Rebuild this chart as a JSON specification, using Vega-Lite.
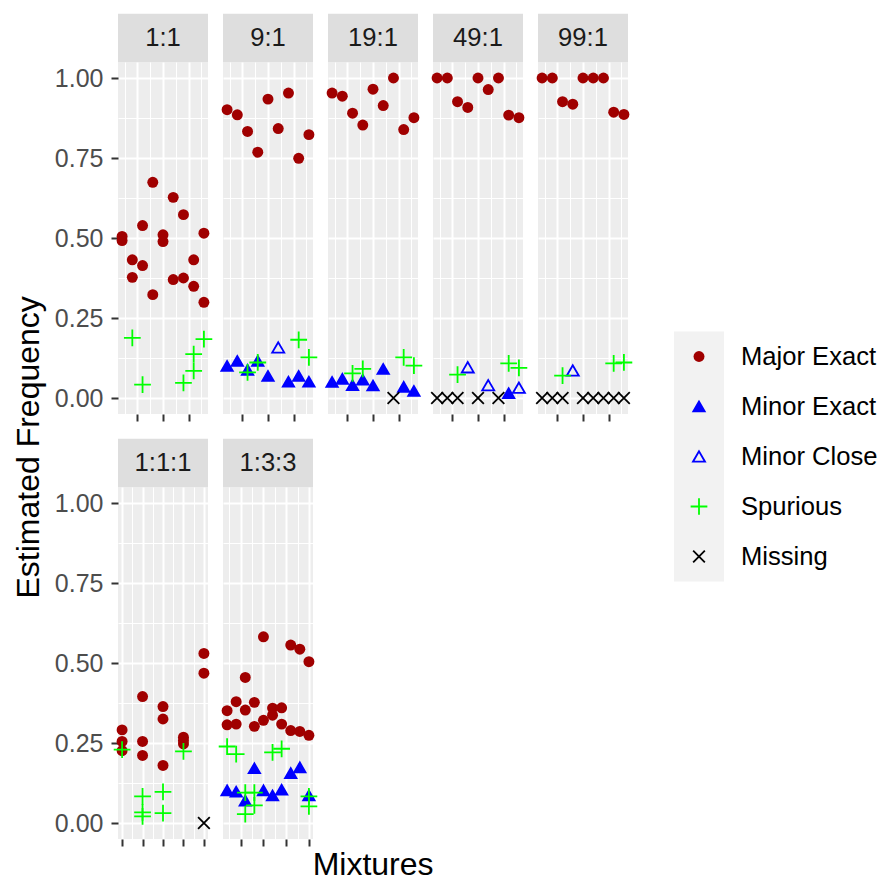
{
"$schema": "https://vega.github.io/schema/vega-lite/v6.json",
"background": "white",
"padding": {"left": 13, "top": 13, "right": 0, "bottom": 0},
"config": {
  "font": "Liberation Sans",
  "view": {"stroke": null, "fill": "#EDEDED"},
  "axis": {"domain": false, "gridColor": "white", "tickColor": "#333333", "tickSize": 7, "tickWidth": 2, "labelFontSize": 25, "labelColor": "#4D4D4D", "labelPadding": 8, "labelFont": "Liberation Sans", "title": null, "tickCount": 40},
  "title": {"font": "Liberation Sans", "fontSize": 32, "fontWeight": "normal", "color": "black", "anchor": "middle"}
},
"datasets": {
"legend": [{"t":"Major Exact"},{"t":"Minor Exact"},{"t":"Minor Close"},{"t":"Spurious"},{"t":"Missing"}],
"pts": [
{"p":"1:1","x":1,"v":0.505,"t":"Major Exact"},{"p":"1:1","x":1,"v":0.492,"t":"Major Exact"},
{"p":"1:1","x":2,"v":0.432,"t":"Major Exact"},{"p":"1:1","x":2,"v":0.377,"t":"Major Exact"},
{"p":"1:1","x":3,"v":0.539,"t":"Major Exact"},{"p":"1:1","x":3,"v":0.414,"t":"Major Exact"},
{"p":"1:1","x":4,"v":0.674,"t":"Major Exact"},{"p":"1:1","x":4,"v":0.323,"t":"Major Exact"},
{"p":"1:1","x":5,"v":0.510,"t":"Major Exact"},{"p":"1:1","x":5,"v":0.489,"t":"Major Exact"},
{"p":"1:1","x":6,"v":0.627,"t":"Major Exact"},{"p":"1:1","x":6,"v":0.370,"t":"Major Exact"},
{"p":"1:1","x":7,"v":0.573,"t":"Major Exact"},{"p":"1:1","x":7,"v":0.375,"t":"Major Exact"},
{"p":"1:1","x":8,"v":0.432,"t":"Major Exact"},{"p":"1:1","x":8,"v":0.349,"t":"Major Exact"},
{"p":"1:1","x":9,"v":0.515,"t":"Major Exact"},{"p":"1:1","x":9,"v":0.299,"t":"Major Exact"},
{"p":"1:1","x":2,"v":0.188,"t":"Spurious"},{"p":"1:1","x":3,"v":0.042,"t":"Spurious"},
{"p":"1:1","x":7,"v":0.047,"t":"Spurious"},{"p":"1:1","x":8,"v":0.137,"t":"Spurious"},
{"p":"1:1","x":8,"v":0.085,"t":"Spurious"},{"p":"1:1","x":9,"v":0.184,"t":"Spurious"},

{"p":"9:1","x":1,"v":0.901,"t":"Major Exact"},{"p":"9:1","x":2,"v":0.885,"t":"Major Exact"},
{"p":"9:1","x":3,"v":0.833,"t":"Major Exact"},{"p":"9:1","x":4,"v":0.768,"t":"Major Exact"},
{"p":"9:1","x":5,"v":0.934,"t":"Major Exact"},{"p":"9:1","x":6,"v":0.842,"t":"Major Exact"},
{"p":"9:1","x":7,"v":0.953,"t":"Major Exact"},{"p":"9:1","x":8,"v":0.749,"t":"Major Exact"},
{"p":"9:1","x":9,"v":0.823,"t":"Major Exact"},
{"p":"9:1","x":1,"v":0.100,"t":"Minor Exact"},{"p":"9:1","x":2,"v":0.116,"t":"Minor Exact"},
{"p":"9:1","x":3,"v":0.088,"t":"Minor Exact"},{"p":"9:1","x":4,"v":0.116,"t":"Minor Exact"},
{"p":"9:1","x":5,"v":0.069,"t":"Minor Exact"},{"p":"9:1","x":6,"v":0.158,"t":"Minor Close"},
{"p":"9:1","x":7,"v":0.051,"t":"Minor Exact"},{"p":"9:1","x":8,"v":0.069,"t":"Minor Exact"},
{"p":"9:1","x":9,"v":0.051,"t":"Minor Exact"},
{"p":"9:1","x":3,"v":0.080,"t":"Spurious"},{"p":"9:1","x":4,"v":0.111,"t":"Spurious"},
{"p":"9:1","x":8,"v":0.182,"t":"Spurious"},{"p":"9:1","x":9,"v":0.127,"t":"Spurious"},

{"p":"19:1","x":1,"v":0.953,"t":"Major Exact"},{"p":"19:1","x":2,"v":0.943,"t":"Major Exact"},
{"p":"19:1","x":3,"v":0.890,"t":"Major Exact"},{"p":"19:1","x":4,"v":0.853,"t":"Major Exact"},
{"p":"19:1","x":5,"v":0.965,"t":"Major Exact"},{"p":"19:1","x":6,"v":0.914,"t":"Major Exact"},
{"p":"19:1","x":7,"v":1.0,"t":"Major Exact"},{"p":"19:1","x":8,"v":0.839,"t":"Major Exact"},
{"p":"19:1","x":9,"v":0.876,"t":"Major Exact"},
{"p":"19:1","x":1,"v":0.050,"t":"Minor Exact"},{"p":"19:1","x":2,"v":0.060,"t":"Minor Exact"},
{"p":"19:1","x":3,"v":0.040,"t":"Minor Exact"},{"p":"19:1","x":4,"v":0.057,"t":"Minor Exact"},
{"p":"19:1","x":5,"v":0.039,"t":"Minor Exact"},{"p":"19:1","x":6,"v":0.091,"t":"Minor Exact"},
{"p":"19:1","x":8,"v":0.035,"t":"Minor Exact"},{"p":"19:1","x":9,"v":0.022,"t":"Minor Exact"},
{"p":"19:1","x":3,"v":0.077,"t":"Spurious"},{"p":"19:1","x":4,"v":0.091,"t":"Spurious"},
{"p":"19:1","x":8,"v":0.127,"t":"Spurious"},{"p":"19:1","x":9,"v":0.101,"t":"Spurious"},
{"p":"19:1","x":7,"v":0,"t":"Missing"},

{"p":"49:1","x":1,"v":1.0,"t":"Major Exact"},{"p":"49:1","x":2,"v":1.0,"t":"Major Exact"},
{"p":"49:1","x":3,"v":0.926,"t":"Major Exact"},{"p":"49:1","x":4,"v":0.908,"t":"Major Exact"},
{"p":"49:1","x":5,"v":1.0,"t":"Major Exact"},{"p":"49:1","x":6,"v":0.964,"t":"Major Exact"},
{"p":"49:1","x":7,"v":1.0,"t":"Major Exact"},{"p":"49:1","x":8,"v":0.884,"t":"Major Exact"},
{"p":"49:1","x":9,"v":0.876,"t":"Major Exact"},
{"p":"49:1","x":8,"v":0.015,"t":"Minor Exact"},
{"p":"49:1","x":4,"v":0.096,"t":"Minor Close"},{"p":"49:1","x":6,"v":0.040,"t":"Minor Close"},
{"p":"49:1","x":9,"v":0.032,"t":"Minor Close"},
{"p":"49:1","x":3,"v":0.073,"t":"Spurious"},{"p":"49:1","x":8,"v":0.108,"t":"Spurious"},
{"p":"49:1","x":9,"v":0.094,"t":"Spurious"},
{"p":"49:1","x":1,"v":0,"t":"Missing"},{"p":"49:1","x":2,"v":0,"t":"Missing"},
{"p":"49:1","x":3,"v":0,"t":"Missing"},{"p":"49:1","x":5,"v":0,"t":"Missing"},
{"p":"49:1","x":7,"v":0,"t":"Missing"},

{"p":"99:1","x":1,"v":1.0,"t":"Major Exact"},{"p":"99:1","x":2,"v":1.0,"t":"Major Exact"},
{"p":"99:1","x":3,"v":0.926,"t":"Major Exact"},{"p":"99:1","x":4,"v":0.918,"t":"Major Exact"},
{"p":"99:1","x":5,"v":1.0,"t":"Major Exact"},{"p":"99:1","x":6,"v":1.0,"t":"Major Exact"},
{"p":"99:1","x":7,"v":1.0,"t":"Major Exact"},{"p":"99:1","x":8,"v":0.893,"t":"Major Exact"},
{"p":"99:1","x":9,"v":0.886,"t":"Major Exact"},
{"p":"99:1","x":4,"v":0.086,"t":"Minor Close"},
{"p":"99:1","x":3,"v":0.070,"t":"Spurious"},{"p":"99:1","x":8,"v":0.108,"t":"Spurious"},
{"p":"99:1","x":9,"v":0.111,"t":"Spurious"},
{"p":"99:1","x":1,"v":0,"t":"Missing"},{"p":"99:1","x":2,"v":0,"t":"Missing"},
{"p":"99:1","x":3,"v":0,"t":"Missing"},{"p":"99:1","x":5,"v":0,"t":"Missing"},
{"p":"99:1","x":6,"v":0,"t":"Missing"},{"p":"99:1","x":7,"v":0,"t":"Missing"},
{"p":"99:1","x":8,"v":0,"t":"Missing"},{"p":"99:1","x":9,"v":0,"t":"Missing"},

{"p":"1:1:1","x":1,"v":0.291,"t":"Major Exact"},{"p":"1:1:1","x":1,"v":0.255,"t":"Major Exact"},
{"p":"1:1:1","x":1,"v":0.226,"t":"Major Exact"},{"p":"1:1:1","x":2,"v":0.395,"t":"Major Exact"},
{"p":"1:1:1","x":2,"v":0.255,"t":"Major Exact"},{"p":"1:1:1","x":2,"v":0.211,"t":"Major Exact"},
{"p":"1:1:1","x":3,"v":0.364,"t":"Major Exact"},{"p":"1:1:1","x":3,"v":0.325,"t":"Major Exact"},
{"p":"1:1:1","x":3,"v":0.180,"t":"Major Exact"},{"p":"1:1:1","x":4,"v":0.268,"t":"Major Exact"},
{"p":"1:1:1","x":4,"v":0.258,"t":"Major Exact"},{"p":"1:1:1","x":4,"v":0.247,"t":"Major Exact"},
{"p":"1:1:1","x":5,"v":0.530,"t":"Major Exact"},{"p":"1:1:1","x":5,"v":0.468,"t":"Major Exact"},
{"p":"1:1:1","x":1,"v":0.229,"t":"Spurious"},{"p":"1:1:1","x":2,"v":0.083,"t":"Spurious"},
{"p":"1:1:1","x":2,"v":0.033,"t":"Spurious"},{"p":"1:1:1","x":2,"v":0.021,"t":"Spurious"},
{"p":"1:1:1","x":3,"v":0.097,"t":"Spurious"},{"p":"1:1:1","x":3,"v":0.031,"t":"Spurious"},
{"p":"1:1:1","x":4,"v":0.224,"t":"Spurious"},
{"p":"1:1:1","x":5,"v":0,"t":"Missing"},

{"p":"1:3:3","x":1,"v":0.351,"t":"Major Exact"},{"p":"1:3:3","x":1,"v":0.307,"t":"Major Exact"},
{"p":"1:3:3","x":2,"v":0.379,"t":"Major Exact"},{"p":"1:3:3","x":2,"v":0.309,"t":"Major Exact"},
{"p":"1:3:3","x":3,"v":0.455,"t":"Major Exact"},{"p":"1:3:3","x":3,"v":0.353,"t":"Major Exact"},
{"p":"1:3:3","x":4,"v":0.377,"t":"Major Exact"},{"p":"1:3:3","x":4,"v":0.302,"t":"Major Exact"},
{"p":"1:3:3","x":5,"v":0.582,"t":"Major Exact"},{"p":"1:3:3","x":5,"v":0.321,"t":"Major Exact"},
{"p":"1:3:3","x":6,"v":0.359,"t":"Major Exact"},{"p":"1:3:3","x":6,"v":0.337,"t":"Major Exact"},
{"p":"1:3:3","x":7,"v":0.360,"t":"Major Exact"},{"p":"1:3:3","x":7,"v":0.309,"t":"Major Exact"},
{"p":"1:3:3","x":8,"v":0.556,"t":"Major Exact"},{"p":"1:3:3","x":8,"v":0.289,"t":"Major Exact"},
{"p":"1:3:3","x":9,"v":0.543,"t":"Major Exact"},{"p":"1:3:3","x":9,"v":0.286,"t":"Major Exact"},
{"p":"1:3:3","x":10,"v":0.504,"t":"Major Exact"},{"p":"1:3:3","x":10,"v":0.274,"t":"Major Exact"},
{"p":"1:3:3","x":1,"v":0.102,"t":"Minor Exact"},{"p":"1:3:3","x":2,"v":0.098,"t":"Minor Exact"},
{"p":"1:3:3","x":3,"v":0.070,"t":"Minor Exact"},{"p":"1:3:3","x":4,"v":0.171,"t":"Minor Exact"},
{"p":"1:3:3","x":5,"v":0.102,"t":"Minor Exact"},{"p":"1:3:3","x":6,"v":0.086,"t":"Minor Exact"},
{"p":"1:3:3","x":7,"v":0.104,"t":"Minor Exact"},{"p":"1:3:3","x":8,"v":0.156,"t":"Minor Exact"},
{"p":"1:3:3","x":9,"v":0.174,"t":"Minor Exact"},{"p":"1:3:3","x":10,"v":0.086,"t":"Minor Exact"},
{"p":"1:3:3","x":1,"v":0.239,"t":"Spurious"},{"p":"1:3:3","x":2,"v":0.215,"t":"Spurious"},
{"p":"1:3:3","x":3,"v":0.095,"t":"Spurious"},{"p":"1:3:3","x":3,"v":0.028,"t":"Spurious"},
{"p":"1:3:3","x":4,"v":0.095,"t":"Spurious"},{"p":"1:3:3","x":4,"v":0.055,"t":"Spurious"},
{"p":"1:3:3","x":6,"v":0.221,"t":"Spurious"},{"p":"1:3:3","x":7,"v":0.232,"t":"Spurious"},
{"p":"1:3:3","x":10,"v":0.083,"t":"Spurious"},{"p":"1:3:3","x":10,"v":0.052,"t":"Spurious"}
]},
"title": {"text": "Estimated Frequency", "orient": "left", "offset": 8, "anchor": "middle"},
"center": true,
"spacing": 38,
"hconcat": [
{"title": {"text": "Mixtures", "orient": "bottom", "offset": 3, "anchor": "middle", "dx": 28},
 "spacing": 16,
 "vconcat": [
 {"spacing": 15, "bounds": "flush", "hconcat": [
  {"width": 90, "height": 352, "data": {"name": "pts"}, "transform": [{"filter": "datum.p == '1:1'"}],
   "layer": [
    {"mark": {"type": "point", "filled": false, "strokeWidth": 1.8, "opacity": 1},
     "encoding": {
      "x": {"field": "x", "type": "quantitative", "scale": {"domain": [0.6, 9.4], "nice": false, "zero": false},
            "axis": {"values": [1.25, 2.5, 3.75, 5, 6.25, 7.5, 8.75], "labels": false, "gridWidth": {"condition": {"test": "datum.value % 2.5 == 0", "value": 2}, "value": 1}, "tickOpacity": {"condition": {"test": "datum.value % 2.5 == 0", "value": 1}, "value": 0}}},
      "y": {"field": "v", "type": "quantitative", "scale": {"domain": [-0.05, 1.05], "nice": false, "zero": false},
            "axis": {"values": [0, 0.125, 0.25, 0.375, 0.5, 0.625, 0.75, 0.875, 1], "labelExpr": "datum.value % 0.25 == 0 ? format(datum.value, '.2f') : ''", "gridWidth": {"condition": {"test": "datum.value % 0.25 == 0", "value": 2}, "value": 1}, "tickOpacity": {"condition": {"test": "datum.value % 0.25 == 0", "value": 1}, "value": 0}}},
      "shape": {"field": "t", "type": "nominal", "legend": null, "scale": {"domain": ["Major Exact", "Minor Exact", "Minor Close", "Spurious", "Missing"], "range": ["circle", "triangle-up", "triangle-up", "M-1,0H1M0,-1V1", "M-1,-1L1,1M1,-1L-1,1"]}},
      "stroke": {"field": "t", "type": "nominal", "legend": null, "scale": {"domain": ["Major Exact", "Minor Exact", "Minor Close", "Spurious", "Missing"], "range": ["transparent", "#0000FF", "#0000FF", "#00FF00", "#000000"]}},
      "fill": {"field": "t", "type": "nominal", "legend": null, "scale": {"domain": ["Major Exact", "Minor Exact", "Minor Close", "Spurious", "Missing"], "range": ["#A00000", "#0000FF", "transparent", "transparent", "transparent"]}},
      "size": {"field": "t", "type": "nominal", "legend": null, "scale": {"type": "ordinal", "domain": ["Major Exact", "Minor Exact", "Minor Close", "Spurious", "Missing"], "range": [120, 130, 145, 280, 137]}}
     }},
    {"transform": [{"aggregate": [{"op": "count", "as": "n"}], "groupby": ["p"]}],
     "mark": {"type": "rect", "color": "#DEDEDE", "clip": false},
     "encoding": {"x": {"datum": 0.6, "type": "quantitative"}, "x2": {"datum": 9.4}, "y": {"datum": 1.05, "type": "quantitative"}, "y2": {"datum": 1.201}}},
    {"transform": [{"aggregate": [{"op": "count", "as": "n"}], "groupby": ["p"]}],
     "mark": {"type": "text", "fontSize": 25.6, "color": "#1A1A1A", "baseline": "middle", "align": "center", "clip": false},
     "encoding": {"x": {"datum": 5, "type": "quantitative"}, "y": {"datum": 1.1255, "type": "quantitative"}, "text": {"field": "p"}}}
   ]},
  {"width": 90, "height": 352, "data": {"name": "pts"}, "transform": [{"filter": "datum.p == '9:1'"}],
   "layer": [
    {"mark": {"type": "point", "filled": false, "strokeWidth": 1.8, "opacity": 1},
     "encoding": {
      "x": {"field": "x", "type": "quantitative", "scale": {"domain": [0.6, 9.4], "nice": false, "zero": false},
            "axis": {"values": [1.25, 2.5, 3.75, 5, 6.25, 7.5, 8.75], "labels": false, "gridWidth": {"condition": {"test": "datum.value % 2.5 == 0", "value": 2}, "value": 1}, "tickOpacity": {"condition": {"test": "datum.value % 2.5 == 0", "value": 1}, "value": 0}}},
      "y": {"field": "v", "type": "quantitative", "scale": {"domain": [-0.05, 1.05], "nice": false, "zero": false},
            "axis": {"values": [0, 0.125, 0.25, 0.375, 0.5, 0.625, 0.75, 0.875, 1], "labels": false, "ticks": false, "minExtent": 0, "maxExtent": 0, "gridWidth": {"condition": {"test": "datum.value % 0.25 == 0", "value": 2}, "value": 1}}},
      "shape": {"field": "t", "type": "nominal", "legend": null, "scale": {"domain": ["Major Exact", "Minor Exact", "Minor Close", "Spurious", "Missing"], "range": ["circle", "triangle-up", "triangle-up", "M-1,0H1M0,-1V1", "M-1,-1L1,1M1,-1L-1,1"]}},
      "stroke": {"field": "t", "type": "nominal", "legend": null, "scale": {"domain": ["Major Exact", "Minor Exact", "Minor Close", "Spurious", "Missing"], "range": ["transparent", "#0000FF", "#0000FF", "#00FF00", "#000000"]}},
      "fill": {"field": "t", "type": "nominal", "legend": null, "scale": {"domain": ["Major Exact", "Minor Exact", "Minor Close", "Spurious", "Missing"], "range": ["#A00000", "#0000FF", "transparent", "transparent", "transparent"]}},
      "size": {"field": "t", "type": "nominal", "legend": null, "scale": {"type": "ordinal", "domain": ["Major Exact", "Minor Exact", "Minor Close", "Spurious", "Missing"], "range": [120, 130, 145, 280, 137]}}
     }},
    {"transform": [{"aggregate": [{"op": "count", "as": "n"}], "groupby": ["p"]}],
     "mark": {"type": "rect", "color": "#DEDEDE", "clip": false},
     "encoding": {"x": {"datum": 0.6, "type": "quantitative"}, "x2": {"datum": 9.4}, "y": {"datum": 1.05, "type": "quantitative"}, "y2": {"datum": 1.201}}},
    {"transform": [{"aggregate": [{"op": "count", "as": "n"}], "groupby": ["p"]}],
     "mark": {"type": "text", "fontSize": 25.6, "color": "#1A1A1A", "baseline": "middle", "align": "center", "clip": false},
     "encoding": {"x": {"datum": 5, "type": "quantitative"}, "y": {"datum": 1.1255, "type": "quantitative"}, "text": {"field": "p"}}}
   ]},
  {"width": 90, "height": 352, "data": {"name": "pts"}, "transform": [{"filter": "datum.p == '19:1'"}],
   "layer": [
    {"mark": {"type": "point", "filled": false, "strokeWidth": 1.8, "opacity": 1},
     "encoding": {
      "x": {"field": "x", "type": "quantitative", "scale": {"domain": [0.6, 9.4], "nice": false, "zero": false},
            "axis": {"values": [1.25, 2.5, 3.75, 5, 6.25, 7.5, 8.75], "labels": false, "gridWidth": {"condition": {"test": "datum.value % 2.5 == 0", "value": 2}, "value": 1}, "tickOpacity": {"condition": {"test": "datum.value % 2.5 == 0", "value": 1}, "value": 0}}},
      "y": {"field": "v", "type": "quantitative", "scale": {"domain": [-0.05, 1.05], "nice": false, "zero": false},
            "axis": {"values": [0, 0.125, 0.25, 0.375, 0.5, 0.625, 0.75, 0.875, 1], "labels": false, "ticks": false, "minExtent": 0, "maxExtent": 0, "gridWidth": {"condition": {"test": "datum.value % 0.25 == 0", "value": 2}, "value": 1}}},
      "shape": {"field": "t", "type": "nominal", "legend": null, "scale": {"domain": ["Major Exact", "Minor Exact", "Minor Close", "Spurious", "Missing"], "range": ["circle", "triangle-up", "triangle-up", "M-1,0H1M0,-1V1", "M-1,-1L1,1M1,-1L-1,1"]}},
      "stroke": {"field": "t", "type": "nominal", "legend": null, "scale": {"domain": ["Major Exact", "Minor Exact", "Minor Close", "Spurious", "Missing"], "range": ["transparent", "#0000FF", "#0000FF", "#00FF00", "#000000"]}},
      "fill": {"field": "t", "type": "nominal", "legend": null, "scale": {"domain": ["Major Exact", "Minor Exact", "Minor Close", "Spurious", "Missing"], "range": ["#A00000", "#0000FF", "transparent", "transparent", "transparent"]}},
      "size": {"field": "t", "type": "nominal", "legend": null, "scale": {"type": "ordinal", "domain": ["Major Exact", "Minor Exact", "Minor Close", "Spurious", "Missing"], "range": [120, 130, 145, 280, 137]}}
     }},
    {"transform": [{"aggregate": [{"op": "count", "as": "n"}], "groupby": ["p"]}],
     "mark": {"type": "rect", "color": "#DEDEDE", "clip": false},
     "encoding": {"x": {"datum": 0.6, "type": "quantitative"}, "x2": {"datum": 9.4}, "y": {"datum": 1.05, "type": "quantitative"}, "y2": {"datum": 1.201}}},
    {"transform": [{"aggregate": [{"op": "count", "as": "n"}], "groupby": ["p"]}],
     "mark": {"type": "text", "fontSize": 25.6, "color": "#1A1A1A", "baseline": "middle", "align": "center", "clip": false},
     "encoding": {"x": {"datum": 5, "type": "quantitative"}, "y": {"datum": 1.1255, "type": "quantitative"}, "text": {"field": "p"}}}
   ]},
  {"width": 90, "height": 352, "data": {"name": "pts"}, "transform": [{"filter": "datum.p == '49:1'"}],
   "layer": [
    {"mark": {"type": "point", "filled": false, "strokeWidth": 1.8, "opacity": 1},
     "encoding": {
      "x": {"field": "x", "type": "quantitative", "scale": {"domain": [0.6, 9.4], "nice": false, "zero": false},
            "axis": {"values": [1.25, 2.5, 3.75, 5, 6.25, 7.5, 8.75], "labels": false, "gridWidth": {"condition": {"test": "datum.value % 2.5 == 0", "value": 2}, "value": 1}, "tickOpacity": {"condition": {"test": "datum.value % 2.5 == 0", "value": 1}, "value": 0}}},
      "y": {"field": "v", "type": "quantitative", "scale": {"domain": [-0.05, 1.05], "nice": false, "zero": false},
            "axis": {"values": [0, 0.125, 0.25, 0.375, 0.5, 0.625, 0.75, 0.875, 1], "labels": false, "ticks": false, "minExtent": 0, "maxExtent": 0, "gridWidth": {"condition": {"test": "datum.value % 0.25 == 0", "value": 2}, "value": 1}}},
      "shape": {"field": "t", "type": "nominal", "legend": null, "scale": {"domain": ["Major Exact", "Minor Exact", "Minor Close", "Spurious", "Missing"], "range": ["circle", "triangle-up", "triangle-up", "M-1,0H1M0,-1V1", "M-1,-1L1,1M1,-1L-1,1"]}},
      "stroke": {"field": "t", "type": "nominal", "legend": null, "scale": {"domain": ["Major Exact", "Minor Exact", "Minor Close", "Spurious", "Missing"], "range": ["transparent", "#0000FF", "#0000FF", "#00FF00", "#000000"]}},
      "fill": {"field": "t", "type": "nominal", "legend": null, "scale": {"domain": ["Major Exact", "Minor Exact", "Minor Close", "Spurious", "Missing"], "range": ["#A00000", "#0000FF", "transparent", "transparent", "transparent"]}},
      "size": {"field": "t", "type": "nominal", "legend": null, "scale": {"type": "ordinal", "domain": ["Major Exact", "Minor Exact", "Minor Close", "Spurious", "Missing"], "range": [120, 130, 145, 280, 137]}}
     }},
    {"transform": [{"aggregate": [{"op": "count", "as": "n"}], "groupby": ["p"]}],
     "mark": {"type": "rect", "color": "#DEDEDE", "clip": false},
     "encoding": {"x": {"datum": 0.6, "type": "quantitative"}, "x2": {"datum": 9.4}, "y": {"datum": 1.05, "type": "quantitative"}, "y2": {"datum": 1.201}}},
    {"transform": [{"aggregate": [{"op": "count", "as": "n"}], "groupby": ["p"]}],
     "mark": {"type": "text", "fontSize": 25.6, "color": "#1A1A1A", "baseline": "middle", "align": "center", "clip": false},
     "encoding": {"x": {"datum": 5, "type": "quantitative"}, "y": {"datum": 1.1255, "type": "quantitative"}, "text": {"field": "p"}}}
   ]},
  {"width": 90, "height": 352, "data": {"name": "pts"}, "transform": [{"filter": "datum.p == '99:1'"}],
   "layer": [
    {"mark": {"type": "point", "filled": false, "strokeWidth": 1.8, "opacity": 1},
     "encoding": {
      "x": {"field": "x", "type": "quantitative", "scale": {"domain": [0.6, 9.4], "nice": false, "zero": false},
            "axis": {"values": [1.25, 2.5, 3.75, 5, 6.25, 7.5, 8.75], "labels": false, "gridWidth": {"condition": {"test": "datum.value % 2.5 == 0", "value": 2}, "value": 1}, "tickOpacity": {"condition": {"test": "datum.value % 2.5 == 0", "value": 1}, "value": 0}}},
      "y": {"field": "v", "type": "quantitative", "scale": {"domain": [-0.05, 1.05], "nice": false, "zero": false},
            "axis": {"values": [0, 0.125, 0.25, 0.375, 0.5, 0.625, 0.75, 0.875, 1], "labels": false, "ticks": false, "minExtent": 0, "maxExtent": 0, "gridWidth": {"condition": {"test": "datum.value % 0.25 == 0", "value": 2}, "value": 1}}},
      "shape": {"field": "t", "type": "nominal", "legend": null, "scale": {"domain": ["Major Exact", "Minor Exact", "Minor Close", "Spurious", "Missing"], "range": ["circle", "triangle-up", "triangle-up", "M-1,0H1M0,-1V1", "M-1,-1L1,1M1,-1L-1,1"]}},
      "stroke": {"field": "t", "type": "nominal", "legend": null, "scale": {"domain": ["Major Exact", "Minor Exact", "Minor Close", "Spurious", "Missing"], "range": ["transparent", "#0000FF", "#0000FF", "#00FF00", "#000000"]}},
      "fill": {"field": "t", "type": "nominal", "legend": null, "scale": {"domain": ["Major Exact", "Minor Exact", "Minor Close", "Spurious", "Missing"], "range": ["#A00000", "#0000FF", "transparent", "transparent", "transparent"]}},
      "size": {"field": "t", "type": "nominal", "legend": null, "scale": {"type": "ordinal", "domain": ["Major Exact", "Minor Exact", "Minor Close", "Spurious", "Missing"], "range": [120, 130, 145, 280, 137]}}
     }},
    {"transform": [{"aggregate": [{"op": "count", "as": "n"}], "groupby": ["p"]}],
     "mark": {"type": "rect", "color": "#DEDEDE", "clip": false},
     "encoding": {"x": {"datum": 0.6, "type": "quantitative"}, "x2": {"datum": 9.4}, "y": {"datum": 1.05, "type": "quantitative"}, "y2": {"datum": 1.201}}},
    {"transform": [{"aggregate": [{"op": "count", "as": "n"}], "groupby": ["p"]}],
     "mark": {"type": "text", "fontSize": 25.6, "color": "#1A1A1A", "baseline": "middle", "align": "center", "clip": false},
     "encoding": {"x": {"datum": 5, "type": "quantitative"}, "y": {"datum": 1.1255, "type": "quantitative"}, "text": {"field": "p"}}}
   ]}
 ]},
 {"spacing": 15, "bounds": "flush", "hconcat": [
  {"width": 90, "height": 352, "data": {"name": "pts"}, "transform": [{"filter": "datum.p == '1:1:1'"}],
   "layer": [
    {"mark": {"type": "point", "filled": false, "strokeWidth": 1.8, "opacity": 1},
     "encoding": {
      "x": {"field": "x", "type": "quantitative", "scale": {"domain": [0.8, 5.2], "nice": false, "zero": false},
            "axis": {"values": [1, 1.5, 2, 2.5, 3, 3.5, 4, 4.5, 5], "labels": false, "gridWidth": {"condition": {"test": "datum.value % 1 == 0", "value": 2}, "value": 1}, "tickOpacity": {"condition": {"test": "datum.value % 1 == 0", "value": 1}, "value": 0}}},
      "y": {"field": "v", "type": "quantitative", "scale": {"domain": [-0.05, 1.05], "nice": false, "zero": false},
            "axis": {"values": [0, 0.125, 0.25, 0.375, 0.5, 0.625, 0.75, 0.875, 1], "labelExpr": "datum.value % 0.25 == 0 ? format(datum.value, '.2f') : ''", "gridWidth": {"condition": {"test": "datum.value % 0.25 == 0", "value": 2}, "value": 1}, "tickOpacity": {"condition": {"test": "datum.value % 0.25 == 0", "value": 1}, "value": 0}}},
      "shape": {"field": "t", "type": "nominal", "legend": null, "scale": {"domain": ["Major Exact", "Minor Exact", "Minor Close", "Spurious", "Missing"], "range": ["circle", "triangle-up", "triangle-up", "M-1,0H1M0,-1V1", "M-1,-1L1,1M1,-1L-1,1"]}},
      "stroke": {"field": "t", "type": "nominal", "legend": null, "scale": {"domain": ["Major Exact", "Minor Exact", "Minor Close", "Spurious", "Missing"], "range": ["transparent", "#0000FF", "#0000FF", "#00FF00", "#000000"]}},
      "fill": {"field": "t", "type": "nominal", "legend": null, "scale": {"domain": ["Major Exact", "Minor Exact", "Minor Close", "Spurious", "Missing"], "range": ["#A00000", "#0000FF", "transparent", "transparent", "transparent"]}},
      "size": {"field": "t", "type": "nominal", "legend": null, "scale": {"type": "ordinal", "domain": ["Major Exact", "Minor Exact", "Minor Close", "Spurious", "Missing"], "range": [120, 130, 145, 280, 137]}}
     }},
    {"transform": [{"aggregate": [{"op": "count", "as": "n"}], "groupby": ["p"]}],
     "mark": {"type": "rect", "color": "#DEDEDE", "clip": false},
     "encoding": {"x": {"datum": 0.8, "type": "quantitative"}, "x2": {"datum": 5.2}, "y": {"datum": 1.05, "type": "quantitative"}, "y2": {"datum": 1.201}}},
    {"transform": [{"aggregate": [{"op": "count", "as": "n"}], "groupby": ["p"]}],
     "mark": {"type": "text", "fontSize": 25.6, "color": "#1A1A1A", "baseline": "middle", "align": "center", "clip": false},
     "encoding": {"x": {"datum": 3, "type": "quantitative"}, "y": {"datum": 1.1255, "type": "quantitative"}, "text": {"field": "p"}}}
   ]},
  {"width": 90, "height": 352, "data": {"name": "pts"}, "transform": [{"filter": "datum.p == '1:3:3'"}],
   "layer": [
    {"mark": {"type": "point", "filled": false, "strokeWidth": 1.8, "opacity": 1},
     "encoding": {
      "x": {"field": "x", "type": "quantitative", "scale": {"domain": [0.55, 10.45], "nice": false, "zero": false},
            "axis": {"values": [1.25, 2.5, 3.75, 5, 6.25, 7.5, 8.75, 10], "labels": false, "gridWidth": {"condition": {"test": "datum.value % 2.5 == 0", "value": 2}, "value": 1}, "tickOpacity": {"condition": {"test": "datum.value % 2.5 == 0", "value": 1}, "value": 0}}},
      "y": {"field": "v", "type": "quantitative", "scale": {"domain": [-0.05, 1.05], "nice": false, "zero": false},
            "axis": {"values": [0, 0.125, 0.25, 0.375, 0.5, 0.625, 0.75, 0.875, 1], "labels": false, "ticks": false, "minExtent": 0, "maxExtent": 0, "gridWidth": {"condition": {"test": "datum.value % 0.25 == 0", "value": 2}, "value": 1}}},
      "shape": {"field": "t", "type": "nominal", "legend": null, "scale": {"domain": ["Major Exact", "Minor Exact", "Minor Close", "Spurious", "Missing"], "range": ["circle", "triangle-up", "triangle-up", "M-1,0H1M0,-1V1", "M-1,-1L1,1M1,-1L-1,1"]}},
      "stroke": {"field": "t", "type": "nominal", "legend": null, "scale": {"domain": ["Major Exact", "Minor Exact", "Minor Close", "Spurious", "Missing"], "range": ["transparent", "#0000FF", "#0000FF", "#00FF00", "#000000"]}},
      "fill": {"field": "t", "type": "nominal", "legend": null, "scale": {"domain": ["Major Exact", "Minor Exact", "Minor Close", "Spurious", "Missing"], "range": ["#A00000", "#0000FF", "transparent", "transparent", "transparent"]}},
      "size": {"field": "t", "type": "nominal", "legend": null, "scale": {"type": "ordinal", "domain": ["Major Exact", "Minor Exact", "Minor Close", "Spurious", "Missing"], "range": [120, 130, 145, 280, 137]}}
     }},
    {"transform": [{"aggregate": [{"op": "count", "as": "n"}], "groupby": ["p"]}],
     "mark": {"type": "rect", "color": "#DEDEDE", "clip": false},
     "encoding": {"x": {"datum": 0.55, "type": "quantitative"}, "x2": {"datum": 10.45}, "y": {"datum": 1.05, "type": "quantitative"}, "y2": {"datum": 1.201}}},
    {"transform": [{"aggregate": [{"op": "count", "as": "n"}], "groupby": ["p"]}],
     "mark": {"type": "text", "fontSize": 25.6, "color": "#1A1A1A", "baseline": "middle", "align": "center", "clip": false},
     "encoding": {"x": {"datum": 5.5, "type": "quantitative"}, "y": {"datum": 1.1255, "type": "quantitative"}, "text": {"field": "p"}}}
   ]}
 ]}
]},
{"width": 50, "height": 250, "view": {"fill": "#F2F2F2", "stroke": null}, "data": {"name": "legend"},
 "title": {"text": " ", "orient": "bottom", "fontSize": 20, "offset": 10},
 "layer": [
  {"mark": {"type": "point", "filled": false, "strokeWidth": 1.8, "opacity": 1},
   "encoding": {
    "y": {"field": "t", "type": "nominal", "sort": null, "axis": null},
    "shape": {"field": "t", "type": "nominal", "legend": null, "scale": {"domain": ["Major Exact", "Minor Exact", "Minor Close", "Spurious", "Missing"], "range": ["circle", "triangle-up", "triangle-up", "M-1,0H1M0,-1V1", "M-1,-1L1,1M1,-1L-1,1"]}},
    "stroke": {"field": "t", "type": "nominal", "legend": null, "scale": {"domain": ["Major Exact", "Minor Exact", "Minor Close", "Spurious", "Missing"], "range": ["transparent", "#0000FF", "#0000FF", "#00FF00", "#000000"]}},
    "fill": {"field": "t", "type": "nominal", "legend": null, "scale": {"domain": ["Major Exact", "Minor Exact", "Minor Close", "Spurious", "Missing"], "range": ["#A00000", "#0000FF", "transparent", "transparent", "transparent"]}},
    "size": {"field": "t", "type": "nominal", "legend": null, "scale": {"type": "ordinal", "domain": ["Major Exact", "Minor Exact", "Minor Close", "Spurious", "Missing"], "range": [120, 130, 145, 280, 137]}}
   }},
  {"mark": {"type": "text", "align": "left", "dx": 42, "fontSize": 25.6, "color": "black", "baseline": "middle"},
   "encoding": {"y": {"field": "t", "type": "nominal", "sort": null, "axis": null}, "text": {"field": "t"}}}
 ]}
]
}
